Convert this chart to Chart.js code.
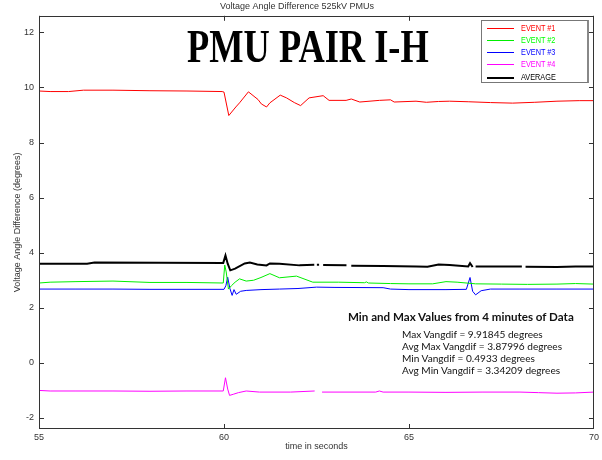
<!DOCTYPE html>
<html>
<head>
<meta charset="utf-8">
<script src="https://cdn.jsdelivr.net/npm/chart.js@4/dist/chart.umd.min.js"></script>
<style>
  html, body { margin: 0; padding: 0; background: #fff; }
  #wrap { position: relative; width: 602px; height: 460px; overflow: hidden; }
  #plot { position: absolute; left: 0; top: 0; }
  .banner {
    position: absolute; left: 187px; top: 24px;
    font-family: "Liberation Serif", "Times New Roman", serif;
    font-weight: bold; font-size: 36px; line-height: 36px; color: #000;
    transform-origin: 0 0; transform: scale(1.01, 1.27); white-space: nowrap;
  }
  .legend {
    position: absolute; left: 481px; top: 20px; width: 108px; height: 63px;
    border: 1px solid #777; border-right: 2px solid #888; background: #fff; box-sizing: border-box;
    font-family: "Liberation Sans", Arial, sans-serif;
    font-size: 8.5px;
  }
  .legend .row { position: absolute; left: 0; height: 10px; width: 100%; }
  .legend .sw { position: absolute; left: 5px; width: 27px; top: 5px; }
  .legend .lab { position: absolute; left: 39px; top: 0; line-height: 10px; white-space: nowrap;
                 transform-origin: 0 50%; transform: scaleX(0.86); }
  .stats { position: absolute; font-family: Lato, "Open Sans", sans-serif; color: #111; white-space: nowrap; }
  .stats.head { left: 348px; top: 310px; font-weight: bold; font-size: 11.6px; }
  .stats.line { left: 402px; font-size: 10.1px; }
</style>
</head>
<body>
<div id="wrap">
  <canvas id="plot" width="602" height="460"></canvas>
  <div class="banner">PMU PAIR I-H</div>
  <div class="legend" id="legend"></div>
  <div class="stats head">Min and Max Values from 4 minutes of Data</div>
  <div class="stats line" style="top:328px">Max Vangdif = 9.91845 degrees</div>
  <div class="stats line" style="top:340px">Avg Max Vangdif = 3.87996 degrees</div>
  <div class="stats line" style="top:352px">Min Vangdif = 0.4933 degrees</div>
  <div class="stats line" style="top:364px">Avg Min Vangdif = 3.34209 degrees</div>
</div>
<script>
// Axis ticks
const xTicks = [55, 60, 65, 70];
const yTicks = [-2, 0, 2, 4, 6, 8, 10, 12];

// EVENT #1 (degrees vs seconds)
const event1Time = [55, 55.3, 55.8, 56.2, 57, 58, 59, 59.95, 60.0, 60.13, 60.32, 60.42, 60.66, 60.92, 61.01, 61.15, 61.24, 61.52, 61.69, 61.9, 62.07, 62.3, 62.68, 62.84, 63.3, 63.44, 63.67, 64.2, 64.5, 64.6, 65.19, 65.47, 65.8, 66.1, 66.6, 67.2, 67.8, 68.4, 69.0, 69.6, 70];
const event1Deg  = [9.87, 9.85, 9.85, 9.9, 9.9, 9.88, 9.87, 9.85, 9.83, 8.98, 9.29, 9.44, 9.84, 9.56, 9.40, 9.29, 9.44, 9.72, 9.62, 9.45, 9.34, 9.62, 9.70, 9.53, 9.53, 9.58, 9.47, 9.53, 9.55, 9.47, 9.50, 9.46, 9.49, 9.50, 9.48, 9.45, 9.43, 9.46, 9.50, 9.52, 9.52];

// EVENT #2
const event2Time = [55, 55.3, 56, 57, 58, 59, 59.98, 60.02, 60.06, 60.12, 60.2, 60.3, 60.42, 60.6, 60.8, 61.0, 61.24, 61.5, 61.96, 62.4, 63.1, 63.8, 63.85, 63.9, 64.5, 65.0, 65.64, 66.0, 66.3, 66.8, 67.5, 68.2, 69.0, 69.5, 70];
const event2Deg  = [2.9, 2.93, 2.95, 2.97, 2.92, 2.92, 2.9, 3.55, 3.3, 2.68, 2.8, 2.93, 3.05, 2.97, 3.0, 3.1, 3.24, 3.09, 3.15, 2.93, 2.93, 2.91, 2.94, 2.9, 2.88, 2.87, 2.87, 2.95, 2.93, 2.87, 2.86, 2.85, 2.86, 2.88, 2.86];

// EVENT #3
const event3Time = [55, 56, 57, 58, 59, 60.0, 60.05, 60.1, 60.16, 60.22, 60.27, 60.33, 60.45, 60.6, 61.0, 61.5, 62.0, 62.5, 63.0, 64.3, 64.5, 65.0, 66.0, 66.55, 66.65, 66.72, 66.8, 66.95, 67.2, 68, 69, 70];
const event3Deg  = [2.68, 2.68, 2.68, 2.67, 2.67, 2.67, 2.8, 3.11, 2.7, 2.45, 2.66, 2.49, 2.6, 2.63, 2.66, 2.68, 2.7, 2.75, 2.74, 2.73, 2.68, 2.66, 2.66, 2.67, 3.1, 2.6, 2.47, 2.62, 2.68, 2.68, 2.68, 2.68];

// EVENT #4 (null = missing samples)
const event4Time = [55, 55.3, 56, 57, 58, 59, 59.98, 60.04, 60.1, 60.15, 60.25, 60.39, 60.6, 60.96, 61.8, 62.45, 62.55, 62.65, 64.1, 64.2, 64.3, 65, 66, 67, 68, 68.5, 69, 69.5, 70];
const event4Deg  = [-1.0, -1.02, -1.02, -1.02, -1.03, -1.02, -1.02, -0.54, -0.95, -1.18, -1.14, -1.08, -1.02, -1.06, -1.06, -1.02, null, -1.06, -1.06, -1.02, -1.06, -1.06, -1.07, -1.06, -1.06, -1.08, -1.1, -1.09, -1.06];

// AVERAGE (null = missing samples)
const averageTime = [55, 56.3, 56.5, 59.98, 60.04, 60.1, 60.17, 60.3, 60.56, 60.7, 60.9, 61.15, 61.24, 61.5, 62.04, 62.44, 62.48, 62.51, 62.57, 62.62, 62.68, 63.31, 63.38, 63.44, 64.3, 65.2, 65.5, 65.8, 66.1, 66.6, 66.65, 66.72, 66.76, 66.8, 67.5, 68.05, 68.1, 68.15, 69, 69.5, 70];
const averageDeg  = [3.6, 3.6, 3.64, 3.63, 3.9, 3.6, 3.36, 3.42, 3.61, 3.64, 3.57, 3.54, 3.61, 3.6, 3.54, 3.56, null, 3.56, 3.56, null, 3.55, 3.54, null, 3.53, 3.52, 3.5, 3.49, 3.57, 3.55, 3.5, 3.62, 3.48, null, 3.5, 3.5, 3.5, null, 3.49, 3.48, 3.5, 3.5];

const seriesNames = ['EVENT #1', 'EVENT #2', 'EVENT #3', 'EVENT #4', 'AVERAGE'];
const seriesColors = ['#ff0000', '#00ee00', '#0000ff', '#ff00ff', '#000000'];
const seriesWidths = [1, 1, 1, 1, 2];

function pairs(ts, vs) { return ts.map((t, i) => ({ x: t, y: vs[i] })); }
const seriesData = [
  pairs(event1Time, event1Deg),
  pairs(event2Time, event2Deg),
  pairs(event3Time, event3Deg),
  pairs(event4Time, event4Deg),
  pairs(averageTime, averageDeg)
];

// Legend box
const legendEl = document.getElementById('legend');
seriesNames.forEach((name, i) => {
  const row = document.createElement('div');
  row.className = 'row';
  row.style.top = (1.5 + i * 12.3) + 'px';
  const sw = document.createElement('div');
  sw.className = 'sw';
  sw.style.borderTop = seriesWidths[i] + 'px solid ' + seriesColors[i];
  const lab = document.createElement('div');
  lab.className = 'lab';
  lab.style.color = seriesColors[i] === '#00ee00' ? '#00ff00' : seriesColors[i];
  lab.textContent = name;
  row.appendChild(sw); row.appendChild(lab);
  legendEl.appendChild(row);
});

// Frame box with inward tick marks on all four sides
const frameTicks = {
  id: 'frameTicks',
  afterDatasetsDraw(chart) {
    const { ctx, chartArea: a, scales: { x, y } } = chart;
    ctx.save();
    ctx.strokeStyle = '#333';
    ctx.lineWidth = 1;
    ctx.strokeRect(Math.round(a.left) + 0.5, Math.round(a.top) + 0.5,
                   Math.round(a.right - a.left) - 1, Math.round(a.bottom - a.top) - 1);
    const len = 5;
    ctx.beginPath();
    xTicks.forEach(v => {
      const px = Math.min(Math.round(x.getPixelForValue(v)), Math.round(a.right) - 1) + 0.5;
      ctx.moveTo(px, a.bottom); ctx.lineTo(px, a.bottom - len);
      ctx.moveTo(px, a.top); ctx.lineTo(px, a.top + len);
    });
    yTicks.forEach(v => {
      const py = Math.round(y.getPixelForValue(v)) + 0.5;
      ctx.moveTo(a.left, py); ctx.lineTo(a.left + len, py);
      ctx.moveTo(a.right, py); ctx.lineTo(a.right - len, py);
    });
    ctx.stroke();
    ctx.restore();
  }
};

const tickFont = { family: 'Liberation Sans, Arial, sans-serif', size: 9 };

new Chart(document.getElementById('plot'), {
  type: 'line',
  data: {
    datasets: seriesNames.map((name, i) => ({
      label: name,
      data: seriesData[i],
      borderColor: seriesColors[i],
      borderWidth: seriesWidths[i],
      pointRadius: 0,
      tension: 0,
      spanGaps: false,
      fill: false
    }))
  },
  options: {
    responsive: false,
    animation: false,
    events: [],
    layout: { padding: { left: 0, right: 8, top: 0, bottom: 0 } },
    plugins: {
      legend: { display: false },
      tooltip: { enabled: false },
      title: {
        display: true,
        text: 'Voltage Angle Difference 525kV PMUs',
        color: '#333',
        font: { family: 'Liberation Sans, Arial, sans-serif', size: 9, weight: 'normal', lineHeight: 1.2 },
        padding: { top: 1, bottom: 4 }
      }
    },
    scales: {
      x: {
        type: 'linear',
        min: 55, max: 70,
        afterBuildTicks: s => { s.ticks = xTicks.map(v => ({ value: v })); },
        afterFit: s => { s.height = 31; },
        grid: { display: false, drawTicks: false },
        border: { display: false },
        ticks: { color: '#333', font: tickFont, padding: 3, autoSkip: false, maxRotation: 0 },
        title: {
          display: true, text: 'time in seconds', color: '#333',
          font: { family: 'Liberation Sans, Arial, sans-serif', size: 9, lineHeight: 1.2 },
          padding: { top: 0, bottom: 8 }
        }
      },
      y: {
        type: 'linear',
        min: -2.4, max: 12.6,
        afterBuildTicks: s => { s.ticks = yTicks.map(v => ({ value: v })); },
        afterFit: s => { s.width = 39; },
        grid: { display: false, drawTicks: false },
        border: { display: false },
        ticks: { color: '#333', font: tickFont, padding: 5, autoSkip: false },
        title: {
          display: true, text: 'Voltage Angle Difference (degrees)', color: '#333',
          font: { family: 'Liberation Sans, Arial, sans-serif', size: 9, lineHeight: 1.2 },
          padding: { top: 12, bottom: 0 }
        }
      }
    }
  },
  plugins: [frameTicks]
});
</script>
</body>
</html>
